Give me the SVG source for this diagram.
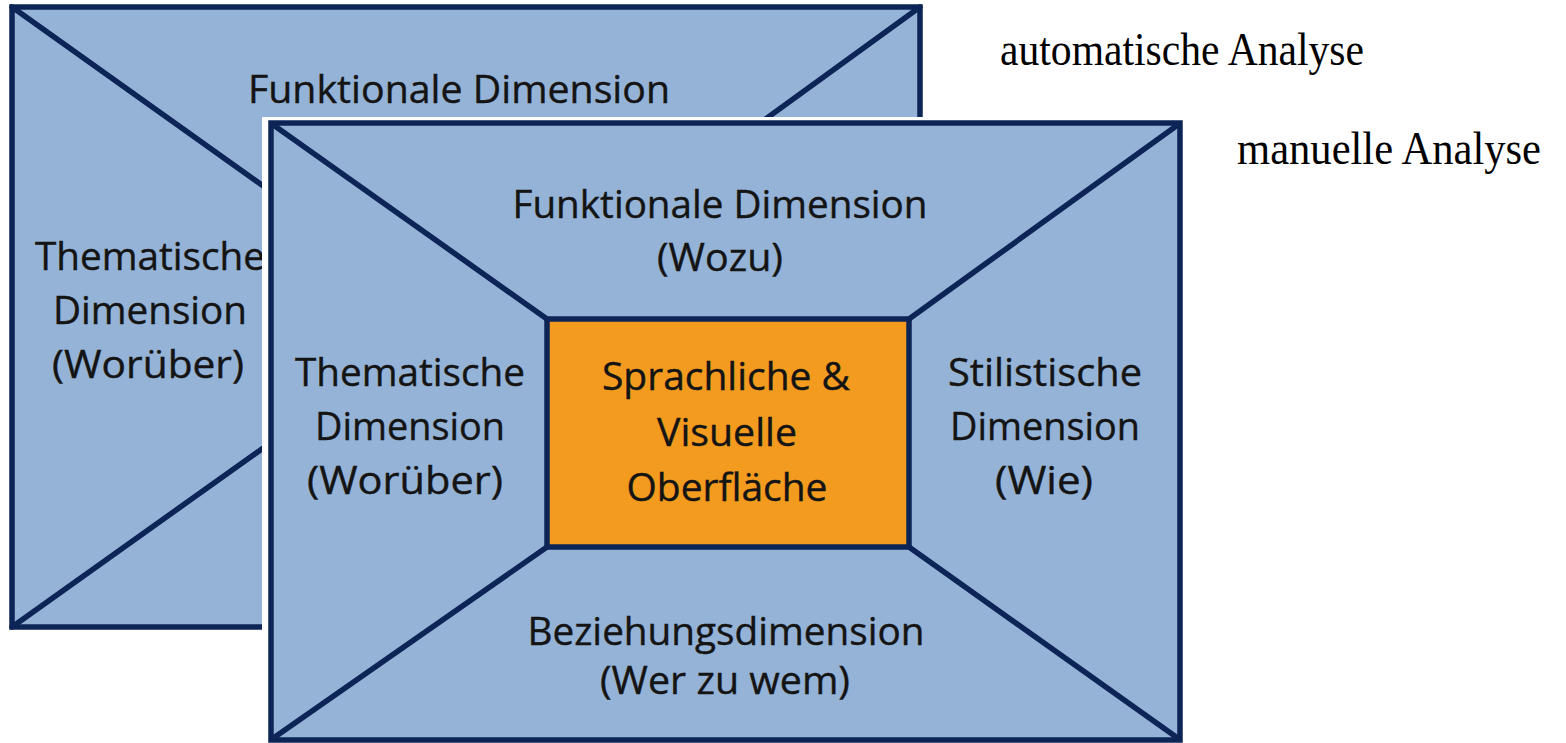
<svg xmlns="http://www.w3.org/2000/svg" width="1566" height="743" viewBox="0 0 1566 743">
<style>
.panel{fill:#95B3D7;stroke:#0C2456;stroke-width:5.5}
.core{fill:#F29B1F;stroke:#0C2456;stroke-width:5.5}
.diag{stroke:#0C2456;stroke-width:5.5;fill:none;stroke-linecap:round}
.lbl{font-family:"Open Sans","Liberation Sans",sans-serif;font-size:38px;fill:#141414;stroke:#141414;stroke-width:0.4;text-anchor:middle}
.side{font-family:"Liberation Serif","DejaVu Serif",serif;font-size:46px;fill:#000}
</style>
<rect width="1566" height="743" fill="#fff"/>
<g id="back-panel">
  <rect class="panel" x="12" y="7" width="908" height="620"/>
  <g id="back-connectors">
    <line class="diag" x1="12" y1="7" x2="287" y2="203"/>
    <line class="diag" x1="920" y1="7" x2="650" y2="203"/>
    <line class="diag" x1="12" y1="627" x2="287" y2="431"/>
    <line class="diag" x1="920" y1="627" x2="650" y2="431"/>
  </g>
  <text class="lbl" x="459" y="103" textLength="422" lengthAdjust="spacingAndGlyphs">Funktionale Dimension</text>
  <text class="lbl" x="150" y="270" textLength="230" lengthAdjust="spacingAndGlyphs">Thematische</text>
  <text class="lbl" x="150" y="324" textLength="194" lengthAdjust="spacingAndGlyphs">Dimension</text>
  <text class="lbl" x="148" y="378" textLength="192" lengthAdjust="spacingAndGlyphs">(Worüber)</text>
</g>
<rect x="262" y="117" width="926" height="640" fill="#fff"/>
<g id="front-panel">
  <rect class="panel" x="271" y="123" width="909" height="617"/>
</g>
<g id="connectors">
  <line class="diag" x1="272" y1="124" x2="547" y2="319"/>
  <line class="diag" x1="1179" y1="124" x2="909" y2="319"/>
  <line class="diag" x1="272" y1="739" x2="547" y2="547"/>
  <line class="diag" x1="1179" y1="739" x2="909" y2="547"/>
</g>
<g id="node-funktional">
  <text class="lbl" x="720" y="218" textLength="415" lengthAdjust="spacingAndGlyphs">Funktionale Dimension</text>
  <text class="lbl" x="720" y="271" textLength="126" lengthAdjust="spacingAndGlyphs">(Wozu)</text>
</g>
<g id="node-thematisch">
  <text class="lbl" x="410" y="386" textLength="230" lengthAdjust="spacingAndGlyphs">Thematische</text>
  <text class="lbl" x="410" y="440" textLength="190" lengthAdjust="spacingAndGlyphs">Dimension</text>
  <text class="lbl" x="405" y="494" textLength="196" lengthAdjust="spacingAndGlyphs">(Worüber)</text>
</g>
<g id="node-stilistisch">
  <text class="lbl" x="1045" y="386" textLength="194" lengthAdjust="spacingAndGlyphs">Stilistische</text>
  <text class="lbl" x="1045" y="440" textLength="190" lengthAdjust="spacingAndGlyphs">Dimension</text>
  <text class="lbl" x="1044" y="494" textLength="98" lengthAdjust="spacingAndGlyphs">(Wie)</text>
</g>
<g id="node-beziehung">
  <text class="lbl" x="726" y="645" textLength="397" lengthAdjust="spacingAndGlyphs">Beziehungsdimension</text>
  <text class="lbl" x="725" y="694" textLength="250" lengthAdjust="spacingAndGlyphs">(Wer zu wem)</text>
</g>
<g id="node-center">
  <rect class="core" x="547" y="319" width="362" height="228"/>
  <text class="lbl" x="726" y="390" textLength="248" lengthAdjust="spacingAndGlyphs">Sprachliche &amp;</text>
  <text class="lbl" x="727" y="446" textLength="140" lengthAdjust="spacingAndGlyphs">Visuelle</text>
  <text class="lbl" x="727" y="501" textLength="201" lengthAdjust="spacingAndGlyphs">Oberfläche</text>
</g>
<g id="label-auto">
  <text class="side" x="1000" y="65" textLength="364" lengthAdjust="spacingAndGlyphs">automatische Analyse</text>
</g>
<g id="label-manuell">
  <text class="side" x="1237" y="164" textLength="304" lengthAdjust="spacingAndGlyphs">manuelle Analyse</text>
</g>
</svg>
